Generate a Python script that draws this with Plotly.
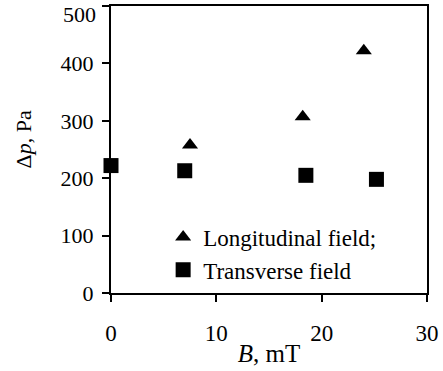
import plotly.graph_objects as go

# Pressure drop vs magnetic induction for two field orientations
b_longitudinal = [7.5, 18.2, 24.0]
dp_longitudinal = [258, 307, 422]

b_transverse = [0.0, 7.0, 18.5, 25.2]
dp_transverse = [222, 213, 205, 198]

x_ticks = [0, 10, 20, 30]
y_ticks = [0, 100, 200, 300, 400, 500]
# the top label is drawn separately, nudged down so it stays inside the page
y_ticktext = [str(v) for v in y_ticks[:-1]] + [""]

FONT = "Times New Roman, Liberation Serif, serif"
BLACK = "black"

fig = go.Figure()
fig.add_trace(go.Scatter(
    x=b_longitudinal, y=dp_longitudinal, mode="markers",
    name="Longitudinal field;",
    marker=dict(symbol="triangle-up", size=14, color=BLACK),
    cliponaxis=False,
))
fig.add_trace(go.Scatter(
    x=b_transverse, y=dp_transverse, mode="markers",
    name="Transverse field",
    marker=dict(symbol="square", size=15, color=BLACK),
    cliponaxis=False,
))

axis_common = dict(
    showgrid=False, zeroline=False, automargin=False,
    showline=True, linecolor=BLACK, linewidth=2, mirror=True,
    ticks="outside", ticklen=7, tickwidth=1.5, tickcolor=BLACK,
    ticklabeloverflow="allow",
)

fig.update_xaxes(
    range=[0, 30], tickvals=x_ticks,
    tickfont=dict(family=FONT, size=23, color=BLACK),
    ticklabelstandoff=11,
    title=dict(text="<i>B</i>, mT", font=dict(family=FONT, size=25, color=BLACK),
               standoff=0),
    **axis_common,
)
fig.update_yaxes(
    range=[0, 500], tickvals=y_ticks, ticktext=y_ticktext,
    tickfont=dict(family=FONT, size=22, color=BLACK),
    ticklabelstandoff=4,
    **axis_common,
)

# top tick label
fig.add_annotation(
    x=0, xref="paper", y=y_ticks[-1], yref="y",
    text=str(y_ticks[-1]), showarrow=False,
    xanchor="right", yanchor="middle", xshift=-13, yshift=-8,
    font=dict(family=FONT, size=22, color=BLACK),
)
# y-axis title
fig.add_annotation(
    x=0, xref="paper", y=0.535, yref="paper",
    text="Δ<i>p</i>, Pa", showarrow=False, textangle=-90,
    xanchor="center", yanchor="middle", xshift=-88,
    font=dict(family=FONT, size=22, color=BLACK),
)

fig.update_layout(
    width=443, height=371,
    margin=dict(l=111, r=16, t=6, b=78),
    paper_bgcolor="white", plot_bgcolor="white",
    font=dict(family=FONT, color=BLACK),
    showlegend=True,
    legend=dict(
        x=0.165, y=0.27, xanchor="left", yanchor="top",
        bgcolor="rgba(0,0,0,0)", borderwidth=0,
        font=dict(family=FONT, size=23, color=BLACK),
        itemwidth=30, tracegroupgap=0,
    ),
)

fig.write_html("out.html")
